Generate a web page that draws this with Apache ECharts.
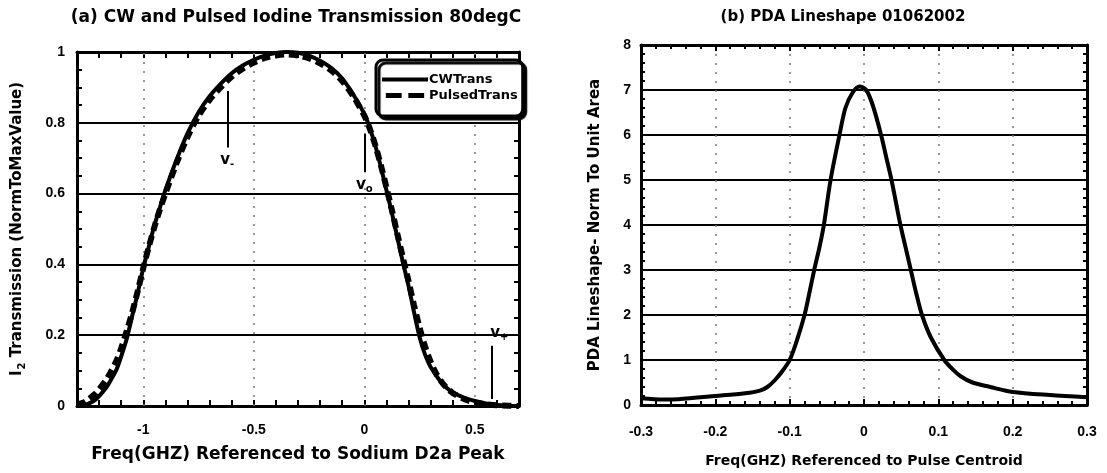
<!DOCTYPE html>
<html>
<head>
<meta charset="utf-8">
<script src="https://cdn.jsdelivr.net/npm/echarts@6/dist/echarts.min.js"></script>
<style>
  html, body { margin: 0; padding: 0; background: #fff; }
  #chart { width: 1107px; height: 473px; }
</style>
</head>
<body>
<div id="chart"></div>
<script>
// Panel (a): iodine cell transmission, CW vs pulsed laser
const cwFreq = [-1.30, -1.27, -1.25, -1.22, -1.20, -1.17, -1.15, -1.12, -1.10, -1.075, -1.05, -1.025,
  -1.00, -0.975, -0.95, -0.925, -0.90, -0.85, -0.80, -0.75, -0.70, -0.65, -0.60, -0.55, -0.50, -0.45,
  -0.40, -0.35, -0.30, -0.25, -0.20, -0.15, -0.10, -0.05, 0.00, 0.025, 0.05, 0.075, 0.10, 0.125, 0.15,
  0.175, 0.20, 0.225, 0.25, 0.275, 0.30, 0.35, 0.375, 0.40, 0.45, 0.50, 0.55, 0.60, 0.65, 0.70];
const cwTrans = [0.000, 0.002, 0.006, 0.016, 0.028, 0.050, 0.070, 0.105, 0.140, 0.190, 0.255, 0.320,
  0.390, 0.450, 0.510, 0.560, 0.610, 0.695, 0.770, 0.830, 0.875, 0.910, 0.940, 0.962, 0.978, 0.990,
  0.997, 1.000, 0.998, 0.990, 0.975, 0.955, 0.925, 0.880, 0.825, 0.785, 0.735, 0.675, 0.610, 0.545, 0.475,
  0.405, 0.340, 0.265, 0.195, 0.145, 0.110, 0.065, 0.050, 0.038, 0.024, 0.014, 0.007, 0.003, 0.001, 0.000];

const pulsedFreq = [-1.30, -1.27, -1.25, -1.22, -1.20, -1.17, -1.15, -1.12, -1.10, -1.075, -1.05, -1.025,
  -1.00, -0.975, -0.95, -0.925, -0.90, -0.85, -0.80, -0.75, -0.70, -0.65, -0.60, -0.55, -0.50, -0.45,
  -0.40, -0.35, -0.30, -0.25, -0.20, -0.15, -0.10, -0.05, 0.00, 0.025, 0.05, 0.075, 0.10, 0.125, 0.15,
  0.175, 0.20, 0.225, 0.25, 0.275, 0.30, 0.325, 0.35, 0.375, 0.40, 0.45, 0.50, 0.55, 0.60, 0.65, 0.70];
const pulsedTrans = [0.004, 0.010, 0.018, 0.033, 0.047, 0.072, 0.093, 0.130, 0.163, 0.212, 0.265, 0.325,
  0.390, 0.450, 0.505, 0.555, 0.600, 0.685, 0.760, 0.820, 0.865, 0.900, 0.930, 0.953, 0.970, 0.983,
  0.990, 0.993, 0.990, 0.982, 0.968, 0.948, 0.918, 0.875, 0.820, 0.783, 0.736, 0.680, 0.618, 0.553, 0.485,
  0.418, 0.353, 0.285, 0.222, 0.168, 0.125, 0.092, 0.068, 0.050, 0.037, 0.020, 0.010, 0.005, 0.002, 0.001, 0.000];

// Lidar operating frequencies marked on panel (a)
const markerNames = ['-', 'o', '+'];
const markerFreq = [-0.62, 0.0, 0.575];
const markerFrom = [0.89, 0.77, 0.02];
const markerTo = [0.73, 0.66, 0.17];

// Dotted reference lines at the labelled frequencies of panel (a)
const freqGridA = [-1, -0.5, 0, 0.5];

// Panel (b): pulsed dye amplifier lineshape
const pdaFreq = [-0.30, -0.27, -0.25, -0.20, -0.16, -0.14, -0.13, -0.12, -0.11, -0.10, -0.09, -0.08,
  -0.074, -0.067, -0.06, -0.054, -0.045, -0.033, -0.025, -0.015, -0.006, 0.003, 0.012, 0.023, 0.030,
  0.037, 0.043, 0.049, 0.056, 0.063, 0.070, 0.078, 0.090, 0.108, 0.120, 0.130, 0.146, 0.170, 0.200,
  0.250, 0.300];
const pdaShape = [0.15, 0.12, 0.13, 0.20, 0.26, 0.32, 0.40, 0.55, 0.75, 1.00, 1.45, 2.00,
  2.45, 3.00, 3.50, 4.00, 5.00, 6.00, 6.60, 6.95, 7.08, 7.00, 6.65, 6.00, 5.50,
  5.00, 4.50, 4.00, 3.50, 3.00, 2.50, 2.00, 1.50, 1.00, 0.78, 0.64, 0.50, 0.40, 0.29,
  0.22, 0.17];

const zip = (xs, ys) => xs.map((x, i) => [x, ys[i]]);

const nameFont = 'DejaVu Sans';
const tickFont = 'Liberation Sans';
const black = '#000';

function frameAxis(extra) {
  return Object.assign({
    type: 'value',
    axisLine: { show: true, onZero: false, lineStyle: { color: black, width: 3 } },
    axisTick: { show: true, inside: true, length: 6, lineStyle: { color: black, width: 2 } },
    axisLabel: { show: false },
    splitLine: { show: false }
  }, extra);
}

const tickLabel = (margin, extra) => Object.assign({
  show: true, margin: margin, color: black,
  fontFamily: tickFont, fontWeight: 'bold', fontSize: 14
}, extra || {});

const chart = echarts.init(document.getElementById('chart'), null, { renderer: 'canvas' });

chart.setOption({
  animation: false,
  backgroundColor: '#fff',
  graphic: [
    { type: 'text', x: 296, y: 18, style: {
        text: '(a) CW and Pulsed Iodine Transmission 80degC', align: 'center', verticalAlign: 'middle',
        fill: black, font: 'bold 17px "DejaVu Sans"' } },
    { type: 'text', x: 843, y: 17, style: {
        text: '(b) PDA Lineshape 01062002', align: 'center', verticalAlign: 'middle',
        fill: black, font: 'bold 15px "DejaVu Sans"' } }
  ],
  grid: [
    { left: 77, top: 52, width: 442, height: 354 },
    { left: 641, top: 45, width: 446, height: 360 }
  ],
  xAxis: [
    frameAxis({
      gridIndex: 0, position: 'bottom', min: -1.3, max: 0.7, interval: 0.1,
      axisLabel: tickLabel(17, {
        formatter: v => {
          const t = Math.round(v * 10);
          return t % 5 === 0 ? String(t / 10) : '';
        }
      }),
      name: 'Freq(GHZ) Referenced to Sodium D2a Peak', nameLocation: 'middle', nameGap: 40,
      nameTextStyle: { fontFamily: nameFont, fontWeight: 'bold', fontSize: 17, color: black }
    }),
    frameAxis({ gridIndex: 0, position: 'top', min: -1.3, max: 0.7, interval: 0.1 }),
    frameAxis({
      gridIndex: 1, position: 'bottom', min: -0.3, max: 0.3, interval: 0.1,
      minorTick: { show: true, splitNumber: 5, length: 4, lineStyle: { color: black, width: 2 } },
      axisLabel: tickLabel(20),
      splitLine: { show: true, lineStyle: { color: '#777', width: 1.5, type: [2, 7] } },
      name: 'Freq(GHZ) Referenced to Pulse Centroid', nameLocation: 'middle', nameGap: 49,
      nameTextStyle: { fontFamily: nameFont, fontWeight: 'bold', fontSize: 14, color: black }
    }),
    frameAxis({
      gridIndex: 1, position: 'top', min: -0.3, max: 0.3, interval: 0.1,
      minorTick: { show: true, splitNumber: 5, length: 4, lineStyle: { color: black, width: 2 } }
    })
  ],
  yAxis: [
    frameAxis({
      gridIndex: 0, position: 'left', min: 0, max: 1, interval: 0.2,
      minorTick: { show: true, splitNumber: 4, length: 5, lineStyle: { color: black, width: 2 } },
      axisLabel: tickLabel(12),
      splitLine: { show: true, lineStyle: { color: black, width: 2 } },
      name: '{i|I}{s|2}{t| Transmission (NormToMaxValue)}', nameLocation: 'middle', nameGap: 50,
      nameTextStyle: {
        fontFamily: nameFont, fontWeight: 'bold', fontSize: 15, color: black,
        rich: {
          i: { fontFamily: nameFont, fontWeight: 'bold', fontSize: 15, color: black },
          s: { fontFamily: nameFont, fontWeight: 'bold', fontSize: 10, color: black, padding: [9, 0, 0, 1] },
          t: { fontFamily: nameFont, fontWeight: 'bold', fontSize: 15, color: black }
        }
      }
    }),
    frameAxis({
      gridIndex: 0, position: 'right', min: 0, max: 1, interval: 0.2,
      minorTick: { show: true, splitNumber: 4, length: 5, lineStyle: { color: black, width: 2 } }
    }),
    frameAxis({
      gridIndex: 1, position: 'left', min: 0, max: 8, interval: 1,
      minorTick: { show: true, splitNumber: 5, length: 4, lineStyle: { color: black, width: 2 } },
      axisLabel: tickLabel(10),
      splitLine: { show: true, lineStyle: { color: black, width: 2 } },
      name: 'PDA Lineshape- Norm To Unit Area', nameLocation: 'middle', nameGap: 38,
      nameTextStyle: { fontFamily: nameFont, fontWeight: 'bold', fontSize: 15, color: black }
    }),
    frameAxis({
      gridIndex: 1, position: 'right', min: 0, max: 8, interval: 1,
      minorTick: { show: true, splitNumber: 5, length: 4, lineStyle: { color: black, width: 2 } }
    })
  ],
  legend: {
    data: [
      { name: 'CWTrans', icon: 'path://M0,0H48V4H0Z' },
      { name: 'PulsedTrans', icon: 'path://M0,0H19V6H0ZM27,0H46V6H27Z' }
    ],
    orient: 'vertical',
    left: 376, top: 60,
    padding: [13, 5, 14, 6],
    itemWidth: 46, itemHeight: 5, itemGap: 3,
    backgroundColor: '#fff',
    borderColor: black, borderWidth: 3, borderRadius: 7,
    shadowColor: black, shadowOffsetX: 3, shadowOffsetY: 3, shadowBlur: 1,
    textStyle: { fontFamily: nameFont, fontWeight: 'bold', fontSize: 13, color: black, padding: [0, 0, 0, -4] }
  },
  series: [
    {
      name: 'CWTrans', type: 'line', xAxisIndex: 0, yAxisIndex: 0,
      data: zip(cwFreq, cwTrans), smooth: 0.3, symbol: 'none', clip: true,
      lineStyle: { color: black, width: 4 },
      itemStyle: { color: black },
      markLine: {
        silent: true, symbol: ['none', 'none'],
        lineStyle: { color: black, width: 2, type: 'solid' },
        label: {
          show: true, position: 'end', distance: 3,
          formatter: p => '{v|v}{s|' + p.name + '}',
          rich: {
            v: { fontFamily: nameFont, fontWeight: 'bold', fontSize: 15, color: black },
            s: { fontFamily: nameFont, fontWeight: 'bold', fontSize: 10, color: black, padding: [9, 0, 0, 0] }
          }
        },
        data: markerFreq.map((f, i) => [
          { name: markerNames[i], coord: [f, markerFrom[i]] },
          { coord: [f, markerTo[i]], label: i === 2 ? { offset: [8, 0] } : {} }
        ])
      }
    },
    {
      name: 'PulsedTrans', type: 'line', xAxisIndex: 0, yAxisIndex: 0,
      data: zip(pulsedFreq, pulsedTrans), smooth: 0.3, symbol: 'none', clip: true,
      lineStyle: { color: black, width: 6, type: [9, 5], cap: 'butt' },
      itemStyle: { color: black },
      markLine: {
        silent: true, symbol: ['none', 'none'], z: 1,
        label: { show: false },
        lineStyle: { color: '#777', width: 1.5, type: [2, 7] },
        data: freqGridA.map(f => ({ xAxis: f }))
      }
    },
    {
      name: 'PDA', type: 'line', xAxisIndex: 2, yAxisIndex: 2,
      data: zip(pdaFreq, pdaShape), smooth: 0.3, symbol: 'none', clip: true,
      lineStyle: { color: black, width: 4 }
    }
  ]
});
</script>
</body>
</html>
